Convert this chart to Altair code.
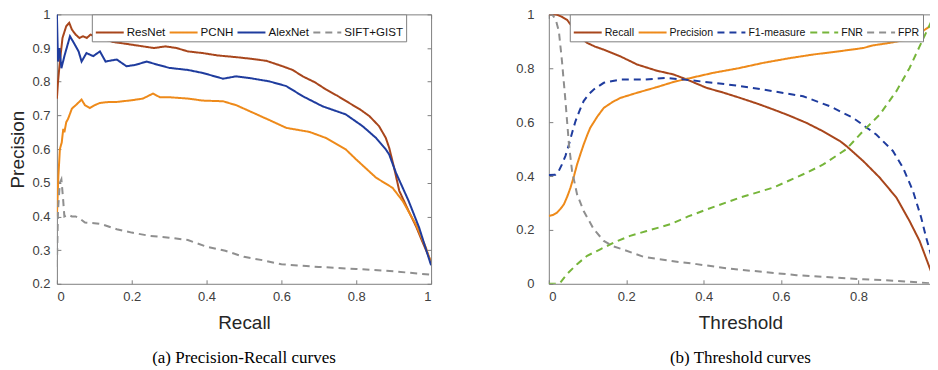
import altair as alt
import pandas as pd

# ---------------- (a) Precision-Recall curves ----------------
resnet_r = [0.0, 0.003, 0.008, 0.015, 0.025, 0.033, 0.04, 0.05, 0.06, 0.07, 0.08, 0.09, 0.1, 0.115, 0.13,
            0.15, 0.17, 0.2, 0.23, 0.26, 0.29, 0.32, 0.35, 0.39, 0.43, 0.479, 0.52, 0.56, 0.603, 0.63,
            0.657, 0.69, 0.719, 0.75, 0.781, 0.81, 0.835, 0.861, 0.879, 0.888, 0.9, 0.915, 0.94, 0.96,
            0.976, 1.0]
resnet_p = [0.75, 0.80, 0.86, 0.93, 0.965, 0.975, 0.955, 0.94, 0.93, 0.935, 0.93, 0.94, 0.935, 0.935, 0.925,
            0.918, 0.915, 0.91, 0.905, 0.9, 0.905, 0.9, 0.89, 0.885, 0.878, 0.873, 0.868, 0.862, 0.846, 0.835,
            0.816, 0.798, 0.777, 0.758, 0.737, 0.718, 0.698, 0.668, 0.633, 0.604, 0.55, 0.476, 0.416, 0.37,
            0.327, 0.265]

pcnh_r = [0.0, 0.004, 0.008, 0.013, 0.017, 0.02, 0.025, 0.03, 0.04, 0.05, 0.066, 0.075, 0.088, 0.1, 0.115,
          0.14, 0.16, 0.2, 0.23, 0.257, 0.275, 0.3, 0.35, 0.39, 0.444, 0.48, 0.524, 0.57, 0.613, 0.675,
          0.719, 0.772, 0.8, 0.853, 0.897, 0.924, 0.959, 0.986, 1.0]
pcnh_p = [0.4, 0.52, 0.6, 0.62, 0.66, 0.65, 0.68, 0.69, 0.72, 0.73, 0.747, 0.73, 0.722, 0.73, 0.737,
          0.74, 0.74, 0.745, 0.75, 0.765, 0.754, 0.754, 0.75, 0.744, 0.742, 0.73, 0.708, 0.685, 0.663, 0.651,
          0.633, 0.599, 0.569, 0.515, 0.485, 0.446, 0.377, 0.308, 0.26]

alex_r = [0.0, 0.003, 0.007, 0.012, 0.021, 0.035, 0.048, 0.058, 0.066, 0.079, 0.097, 0.115, 0.13, 0.16,
          0.186, 0.21, 0.24, 0.27, 0.301, 0.35, 0.39, 0.444, 0.479, 0.52, 0.568, 0.613, 0.657, 0.71,
          0.772, 0.817, 0.853, 0.879, 0.888, 0.906, 0.94, 0.968, 1.0]
alex_p = [1.0, 0.86, 0.9, 0.84, 0.88, 0.935, 0.91, 0.89, 0.86, 0.885, 0.876, 0.89, 0.86, 0.866,
          0.846, 0.85, 0.86, 0.85, 0.841, 0.835, 0.826, 0.809, 0.816, 0.81, 0.801, 0.787, 0.757, 0.727,
          0.703, 0.668, 0.633, 0.599, 0.584, 0.53, 0.446, 0.367, 0.255]

sift_r = [0.0, 0.003, 0.008, 0.012, 0.016, 0.02, 0.03, 0.04, 0.05, 0.06, 0.075, 0.1, 0.12, 0.16, 0.2,
          0.25, 0.3, 0.35, 0.4, 0.45, 0.5, 0.55, 0.6, 0.7, 0.8, 0.9, 1.0]
sift_p = [0.25, 0.42, 0.5, 0.51, 0.46, 0.4, 0.405, 0.4, 0.4, 0.395, 0.382, 0.38, 0.377, 0.362, 0.352,
          0.342, 0.337, 0.33, 0.31, 0.298, 0.28, 0.27, 0.258, 0.25, 0.244, 0.237, 0.227]

pr_names = ["ResNet", "PCNH", "AlexNet", "SIFT+GIST"]
pr_colors = ["#A8461C", "#EE8A1A", "#1F3C9E", "#8F8F8F"]
pr_dashes = [[1, 0], [1, 0], [1, 0], [7, 5]]

# ---------------- (b) Threshold curves ----------------
rec_t = [0.0, 0.021, 0.035, 0.047, 0.06, 0.073, 0.085, 0.099, 0.12, 0.142, 0.185, 0.228, 0.279, 0.322,
         0.357, 0.408, 0.45, 0.494, 0.54, 0.58, 0.62, 0.666, 0.71, 0.752, 0.769, 0.812, 0.855, 0.898,
         0.932, 0.958, 0.987]
rec_v = [1.0, 0.999, 0.99, 0.98, 0.955, 0.93, 0.91, 0.894, 0.88, 0.869, 0.844, 0.814, 0.791, 0.777,
         0.758, 0.727, 0.71, 0.69, 0.668, 0.647, 0.625, 0.597, 0.565, 0.53, 0.511, 0.456, 0.394, 0.32,
         0.233, 0.159, 0.048]

prec_t = [0.0, 0.01, 0.021, 0.03, 0.039, 0.048, 0.056, 0.065, 0.073, 0.082, 0.09, 0.1, 0.107, 0.125,
          0.142, 0.165, 0.185, 0.228, 0.279, 0.322, 0.348, 0.425, 0.49, 0.554, 0.62, 0.683, 0.75, 0.812,
          0.838, 0.88, 0.924, 0.958, 0.987]
prec_v = [0.252, 0.255, 0.264, 0.278, 0.295, 0.325, 0.357, 0.4, 0.443, 0.483, 0.517, 0.555, 0.579, 0.62,
          0.653, 0.675, 0.69, 0.709, 0.73, 0.749, 0.758, 0.783, 0.8, 0.82, 0.837, 0.851, 0.863, 0.875,
          0.885, 0.894, 0.906, 0.93, 0.958]

f1_t = [0.0, 0.017, 0.026, 0.034, 0.043, 0.052, 0.06, 0.069, 0.08, 0.09, 0.103, 0.116, 0.142, 0.185,
        0.245, 0.3, 0.35, 0.425, 0.49, 0.554, 0.657, 0.726, 0.786, 0.846, 0.889, 0.915, 0.941, 0.962,
        0.975, 0.987]
f1_v = [0.404, 0.405, 0.42, 0.443, 0.475, 0.517, 0.56, 0.604, 0.645, 0.678, 0.703, 0.721, 0.746, 0.758,
        0.758, 0.764, 0.758, 0.746, 0.735, 0.721, 0.696, 0.659, 0.616, 0.554, 0.493, 0.431, 0.344, 0.246,
        0.171, 0.11]

fnr_t = [0.0, 0.021, 0.03, 0.047, 0.073, 0.099, 0.133, 0.168, 0.21, 0.253, 0.314, 0.36, 0.408, 0.494,
         0.58, 0.666, 0.709, 0.769, 0.812, 0.855, 0.898, 0.932, 0.958, 0.987]
fnr_v = [0.0, 0.0, 0.005, 0.036, 0.073, 0.104, 0.128, 0.153, 0.178, 0.196, 0.221, 0.25, 0.276, 0.32,
         0.357, 0.412, 0.443, 0.5, 0.567, 0.628, 0.715, 0.801, 0.881, 0.97]

fpr_t = [0.0, 0.009, 0.018, 0.026, 0.034, 0.043, 0.052, 0.06, 0.073, 0.09, 0.116, 0.142, 0.165, 0.19,
         0.245, 0.314, 0.382, 0.468, 0.554, 0.64, 0.726, 0.812, 0.898, 0.987]
fpr_v = [1.0, 0.999, 0.98, 0.937, 0.826, 0.678, 0.517, 0.419, 0.332, 0.27, 0.203, 0.159, 0.14, 0.128,
         0.1, 0.085, 0.073, 0.056, 0.044, 0.032, 0.024, 0.017, 0.011, 0.002]

th_names = ["Recall", "Precision", "F1-measure", "FNR", "FPR"]
th_colors = ["#A8461C", "#EE8A1A", "#1F3C9E", "#76B53A", "#8F8F8F"]
th_dashes = [[1, 0], [1, 0], [7, 5], [7, 5], [7, 5]]


def frame(names, xs, ys):
    rows = []
    for name, xv, yv in zip(names, xs, ys):
        for i, (a, b) in enumerate(zip(xv, yv)):
            rows.append({"series": name, "x": a, "y": b, "i": i})
    return pd.DataFrame(rows)


pr_df = frame(pr_names, [resnet_r, pcnh_r, alex_r, sift_r], [resnet_p, pcnh_p, alex_p, sift_p])
th_df = frame(th_names, [rec_t, prec_t, f1_t, fnr_t, fpr_t], [rec_v, prec_v, f1_v, fnr_v, fpr_v])

GRAY = "#7F7F7F"
SANS = "Liberation Sans"


def panel(df, names, colors, dashes, xdom, xvals, ydom, yvals, xtitle, ytitle, caption,
          legend_x, ylabel_pad, right_border, width, height, leg_font):
    sx = alt.Scale(domain=xdom, nice=False, zero=False)
    sy = alt.Scale(domain=ydom, nice=False, zero=False)
    leg = alt.Legend(orient="none", legendX=legend_x, legendY=0, direction="horizontal",
                     columns=len(names), title=None, symbolType="stroke", symbolSize=784,
                     symbolStrokeWidth=2, labelFont=SANS, labelFontSize=leg_font, labelColor="#111111",
                     labelOffset=2, columnPadding=0, padding=3, strokeColor=GRAY,
                     fillColor="white", labelLimit=200)
    base = alt.Chart(df)
    lines = base.mark_line(strokeWidth=2, clip=True).encode(
        x=alt.X("x:Q", scale=sx, axis=alt.Axis(
            orient="bottom", values=xvals, format="~g", ticks=False, domain=True,
            domainColor=GRAY, labelPadding=7, labelFont=SANS, labelFontSize=13,
            labelColor="#404040", grid=False, title=xtitle, titleFont=SANS, titleFontSize=19,
            titleFontWeight="normal", titleColor="#262626", titlePadding=10)),
        y=alt.Y("y:Q", scale=sy, axis=alt.Axis(
            orient="left", values=yvals, format="~g", ticks=False, domain=True,
            domainColor=GRAY, labelPadding=ylabel_pad, labelFont=SANS, labelFontSize=13,
            labelColor="#404040", grid=False, title=ytitle, titleFont=SANS, titleFontSize=19,
            titleFontWeight="normal", titleColor="#262626", titlePadding=4)),
        color=alt.Color("series:N", scale=alt.Scale(domain=names, range=colors), legend=leg),
        strokeDash=alt.StrokeDash("series:N", scale=alt.Scale(domain=names, range=dashes), legend=leg),
        order=alt.Order("i:Q"),
    )

    def ghost(xaxis, yaxis):
        return base.mark_point(opacity=0, size=1).encode(
            x=alt.X("x:Q", scale=sx, axis=xaxis),
            y=alt.Y("y:Q", scale=sy, axis=yaxis),
        )

    tick_kw = dict(offset=-4, tickSize=4, ticks=True, tickColor=GRAY, tickWidth=1,
                   labels=False, domain=False, grid=False, title=None)
    dom_kw = dict(ticks=False, labels=False, domain=True, domainColor=GRAY, grid=False, title=None)

    g1 = ghost(alt.Axis(orient="bottom", values=xvals, **tick_kw),
               alt.Axis(orient="left", values=yvals, **tick_kw))
    if right_border:
        g2 = ghost(alt.Axis(orient="top", **dom_kw), alt.Axis(orient="right", **dom_kw))
        g3 = ghost(alt.Axis(orient="top", values=xvals, **tick_kw),
                   alt.Axis(orient="right", values=yvals, **tick_kw))
    else:
        g2 = ghost(alt.Axis(orient="top", **dom_kw), None)
        g3 = ghost(alt.Axis(orient="top", values=xvals, **tick_kw), None)

    return alt.layer(lines, g1, g2, g3).resolve_axis(x="independent", y="independent").properties(
        width=width, height=height,
        title=alt.TitleParams(caption, orient="bottom", anchor="middle", font="Liberation Serif",
                              fontSize=17, fontWeight="normal", color="#000000", offset=17),
    )


left = panel(pr_df, pr_names, pr_colors, pr_dashes, [0, 1], [0, 0.2, 0.4, 0.6, 0.8, 1],
             [0.2, 1], [0.2, 0.3, 0.4, 0.5, 0.6, 0.7, 0.8, 0.9, 1], "Recall", "Precision",
             "(a)  Precision-Recall curves", 35, 7, True, 375, 270, 11.6)
right = panel(th_df, th_names, th_colors, th_dashes, [0, 0.99], [0, 0.2, 0.4, 0.6, 0.8],
              [0, 1], [0, 0.2, 0.4, 0.6, 0.8, 1], "Threshold", None,
              "(b)  Threshold curves", 21, 15, False, 384, 270, 10.6)

chart = alt.hconcat(left, right, spacing=83).resolve_scale(
    color="independent", strokeDash="independent"
).configure_view(stroke=None).properties(
    padding={"top": 0, "left": 0, "right": -2, "bottom": 0}, background="white")

chart.save("out.html", embed_options={"renderer": "svg", "actions": False})
